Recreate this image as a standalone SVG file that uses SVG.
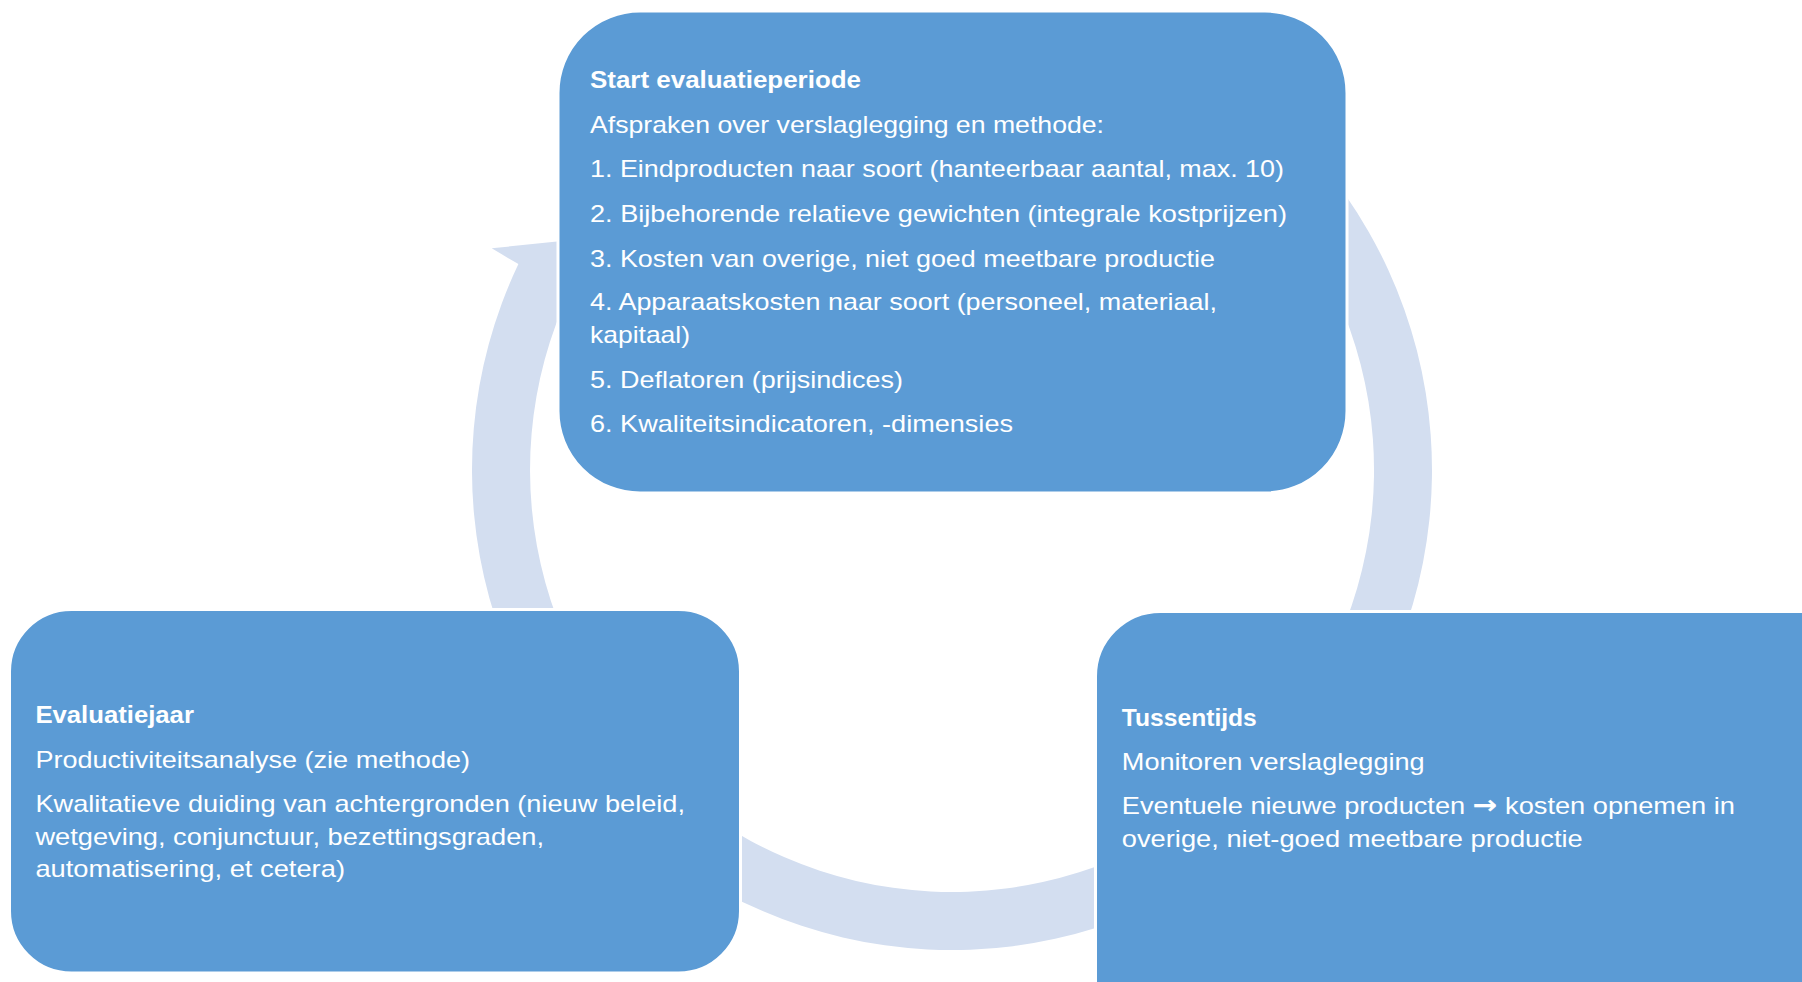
<svg xmlns="http://www.w3.org/2000/svg" width="1802" height="982" viewBox="0 0 1802 982">
<style>
.box{fill:#5B9BD5;stroke:#FFFFFF;stroke-width:3}
.ring{fill:#D3DEF0;stroke:none}
text{font-family:"Liberation Sans",Arial,sans-serif;font-size:24px;fill:#FFFFFF}
.b{font-weight:bold}
.arr{font-family:"DejaVu Sans",sans-serif;font-size:26px;font-weight:bold}
</style>
<rect width="1802" height="982" fill="#FFFFFF"/>
<g id="connectors">
<path class="ring" d="M 1319.7 161.5 A 480 480 0 1 1 518.4 264.1 L 491.7 248.3 L 650 232 L 600 300 L 570.8 289 A 422 422 0 1 0 1275.3 198.7 Z"/>
</g>
<g id="node-start">
<rect class="box" x="558" y="11" width="789" height="482" rx="82" ry="82"/>
<text class="b" x="590" y="88.3" textLength="271" lengthAdjust="spacingAndGlyphs">Start evaluatieperiode</text>
<text x="590" y="132.7" textLength="514" lengthAdjust="spacingAndGlyphs">Afspraken over verslaglegging en methode:</text>
<text x="590" y="176.7" textLength="694" lengthAdjust="spacingAndGlyphs">1. Eindproducten naar soort (hanteerbaar aantal, max. 10)</text>
<text x="590" y="221.7" textLength="697" lengthAdjust="spacingAndGlyphs">2. Bijbehorende relatieve gewichten (integrale kostprijzen)</text>
<text x="590" y="266.7" textLength="625" lengthAdjust="spacingAndGlyphs">3. Kosten van overige, niet goed meetbare productie</text>
<text x="590" y="310" textLength="627" lengthAdjust="spacingAndGlyphs">4. Apparaatskosten naar soort (personeel, materiaal,</text>
<text x="590" y="343.3" textLength="100" lengthAdjust="spacingAndGlyphs">kapitaal)</text>
<text x="590" y="388.3" textLength="313" lengthAdjust="spacingAndGlyphs">5. Deflatoren (prijsindices)</text>
<text x="590" y="431.7" textLength="423" lengthAdjust="spacingAndGlyphs">6. Kwaliteitsindicatoren, -dimensies</text>
</g>
<g id="node-evaluatiejaar">
<rect class="box" x="9.5" y="609.5" width="731" height="363.5" rx="62" ry="62"/>
<text class="b" x="35.4" y="723.3" textLength="158.5" lengthAdjust="spacingAndGlyphs">Evaluatiejaar</text>
<text x="35.4" y="768.3" textLength="434.6" lengthAdjust="spacingAndGlyphs">Productiviteitsanalyse (zie methode)</text>
<text x="35.4" y="812.3" textLength="649.6" lengthAdjust="spacingAndGlyphs">Kwalitatieve duiding van achtergronden (nieuw beleid,</text>
<text x="35.4" y="845" textLength="508.6" lengthAdjust="spacingAndGlyphs">wetgeving, conjunctuur, bezettingsgraden,</text>
<text x="35.4" y="876.7" textLength="309.6" lengthAdjust="spacingAndGlyphs">automatisering, et cetera)</text>
</g>
<g id="node-tussentijds">
<rect class="box" x="1095.5" y="611.5" width="800" height="450" rx="65" ry="65"/>
<text class="b" x="1121.8" y="726" textLength="135" lengthAdjust="spacingAndGlyphs">Tussentijds</text>
<text x="1121.8" y="770" textLength="302.9" lengthAdjust="spacingAndGlyphs">Monitoren verslaglegging</text>
<text x="1121.8" y="814.3" textLength="613.2" lengthAdjust="spacingAndGlyphs">Eventuele nieuwe producten <tspan class="arr">→</tspan> kosten opnemen in</text>
<text x="1121.8" y="847.3" textLength="460.9" lengthAdjust="spacingAndGlyphs">overige, niet-goed meetbare productie</text>
</g>
</svg>
